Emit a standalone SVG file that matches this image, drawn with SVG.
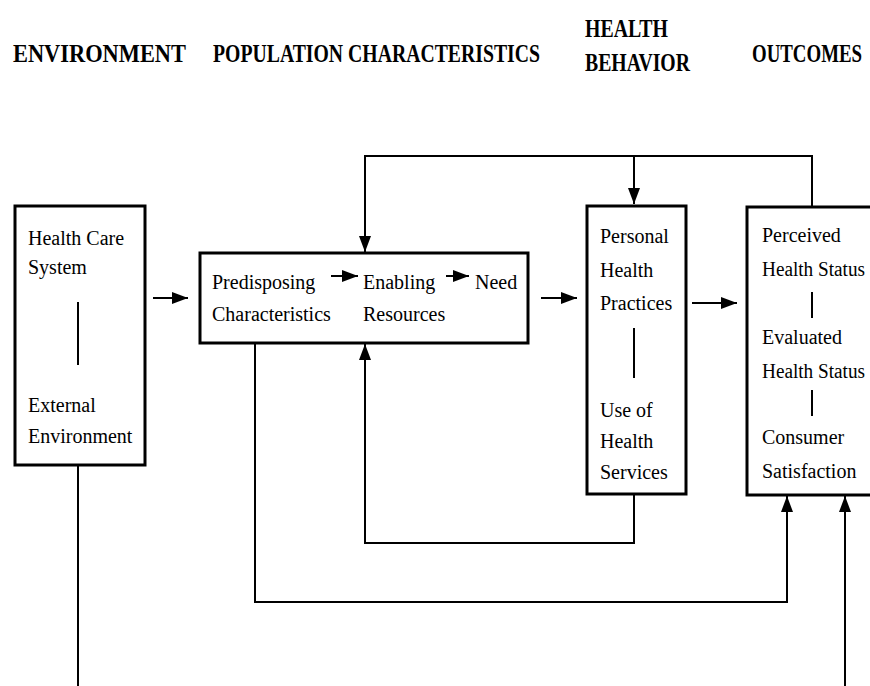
<svg xmlns="http://www.w3.org/2000/svg" width="870" height="686" viewBox="0 0 870 686">
<defs>
<marker id="ah" markerWidth="16" markerHeight="12" refX="16" refY="6" orient="auto" markerUnits="userSpaceOnUse">
<path d="M0,0 L16,6 L0,12 z" fill="#000"/>
</marker>
<style>
.hdr{font-family:"Liberation Serif","Times New Roman",serif;font-weight:bold;font-size:25px;fill:#000}
.t{font-family:"Liberation Serif","Times New Roman",serif;font-size:20px;fill:#000}
.box{fill:#fff;stroke:#000;stroke-width:3}
.ln{fill:none;stroke:#000;stroke-width:2}
.arr{fill:none;stroke:#000;stroke-width:2;marker-end:url(#ah)}
</style>
</defs>
<rect width="870" height="686" fill="#fff"/>
<g id="headers">
<text class="hdr" x="13" y="62" textLength="173" lengthAdjust="spacingAndGlyphs">ENVIRONMENT</text>
<text class="hdr" x="213" y="62" textLength="327" lengthAdjust="spacingAndGlyphs">POPULATION CHARACTERISTICS</text>
<text class="hdr" x="585" y="37" textLength="83" lengthAdjust="spacingAndGlyphs">HEALTH</text>
<text class="hdr" x="585" y="71" textLength="105" lengthAdjust="spacingAndGlyphs">BEHAVIOR</text>
<text class="hdr" x="752" y="62" textLength="110" lengthAdjust="spacingAndGlyphs">OUTCOMES</text>
</g>
<g id="connectors">
<line class="arr" x1="153" y1="298" x2="188" y2="298"/>
<line class="arr" x1="541" y1="298" x2="577" y2="298"/>
<line class="arr" x1="692" y1="303" x2="737" y2="303"/>
<path class="arr" d="M812,207 V156 H365 V252"/>
<path class="arr" d="M634,156 V204"/>
<path class="arr" d="M634,494 V543 H365 V344"/>
<path class="arr" d="M255,343 V602 H787 V496"/>
<path class="ln" d="M78,466 V686"/>
<path class="arr" d="M845,686 V496"/>
</g>
<g id="environment">
<rect class="box" x="15" y="206" width="130" height="259"/>
<text class="t" x="28" y="245">Health Care</text>
<text class="t" x="28" y="274">System</text>
<line class="ln" x1="78" y1="302" x2="78" y2="365"/>
<text class="t" x="28" y="412">External</text>
<text class="t" x="28" y="443">Environment</text>
</g>
<g id="population">
<rect class="box" x="200" y="253" width="328" height="90"/>
<text class="t" x="212" y="289">Predisposing</text>
<text class="t" x="212" y="321">Characteristics</text>
<line class="arr" x1="331" y1="276" x2="358" y2="276"/>
<text class="t" x="363" y="289">Enabling</text>
<text class="t" x="363" y="321">Resources</text>
<line class="arr" x1="446" y1="276" x2="469" y2="276"/>
<text class="t" x="475" y="289">Need</text>
</g>
<g id="behavior">
<rect class="box" x="587" y="206" width="99" height="288"/>
<text class="t" x="600" y="243">Personal</text>
<text class="t" x="600" y="277">Health</text>
<text class="t" x="600" y="310">Practices</text>
<line class="ln" x1="634" y1="328" x2="634" y2="378"/>
<text class="t" x="600" y="417">Use of</text>
<text class="t" x="600" y="448">Health</text>
<text class="t" x="600" y="479">Services</text>
</g>
<g id="outcomes">
<rect class="box" x="747" y="207" width="140" height="288"/>
<text class="t" x="762" y="242">Perceived</text>
<text class="t" x="762" y="276" textLength="103" lengthAdjust="spacingAndGlyphs">Health Status</text>
<line class="ln" x1="812" y1="292" x2="812" y2="318"/>
<text class="t" x="762" y="344">Evaluated</text>
<text class="t" x="762" y="378" textLength="103" lengthAdjust="spacingAndGlyphs">Health Status</text>
<line class="ln" x1="812" y1="390" x2="812" y2="416"/>
<text class="t" x="762" y="444">Consumer</text>
<text class="t" x="762" y="478">Satisfaction</text>
</g>
</svg>
